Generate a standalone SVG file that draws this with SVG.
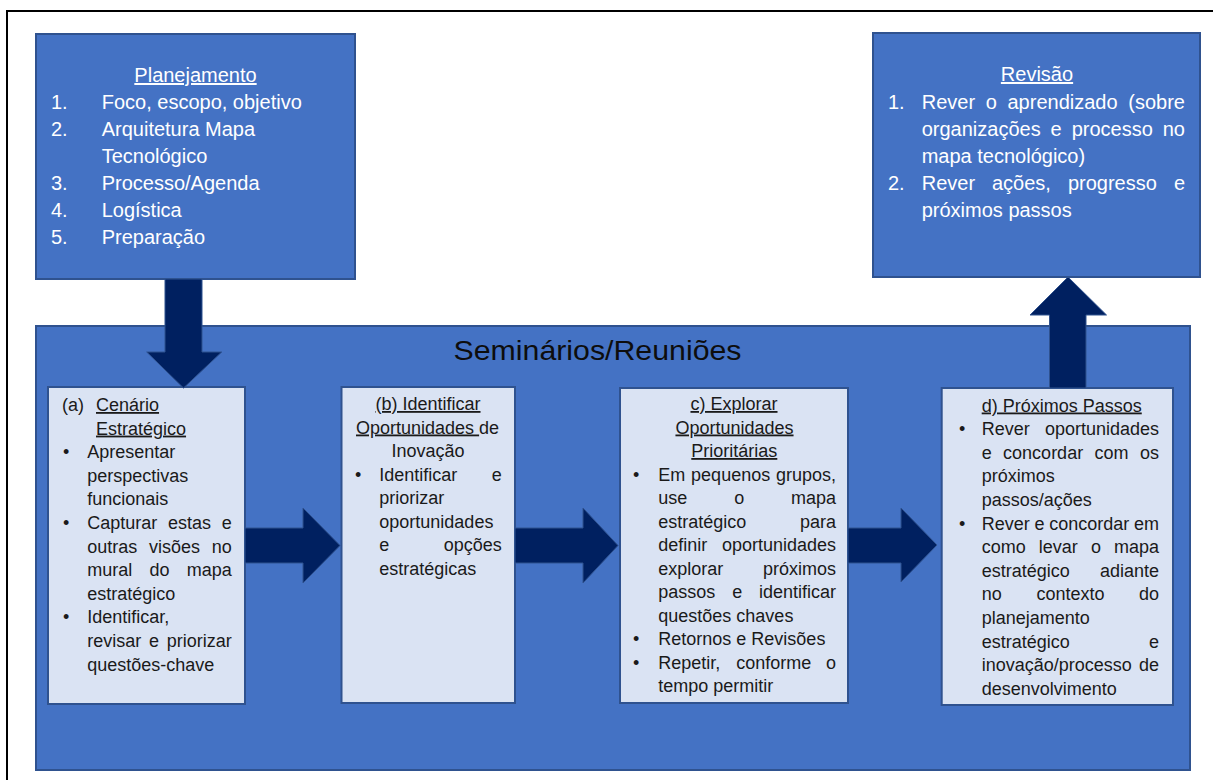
<svg xmlns="http://www.w3.org/2000/svg" width="1213" height="780" viewBox="0 0 1213 780">
<style>
.dark{fill:#4472C4;stroke:#2F528F;stroke-width:2}
.light{fill:#DAE3F3;stroke:#2F528F;stroke-width:2}
.arrow{fill:#002060;stroke:#2F528F;stroke-width:1}
text{font-family:"Liberation Sans",Arial,sans-serif}
.w{fill:#FFFFFF;font-size:20px}
.k{fill:#1A1A1A;font-size:18px}
.e{text-anchor:end}
.m{text-anchor:middle}
.u{text-decoration:underline}
</style>
<rect width="1213" height="780" fill="#FFFFFF"/>
<path d="M7,780 V11 H1213" fill="none" stroke="#000" stroke-width="2"/>

<g id="seminarios">
<rect class="dark" x="36" y="326" width="1154" height="444"/>
<text x="597.5" y="359.5" font-size="28" fill="#0D0D0D" class="m" textLength="288" lengthAdjust="spacingAndGlyphs">Seminários/Reuniões</text>
</g>

<g id="planejamento">
<rect class="dark" x="36" y="34" width="319" height="245"/>
<text class="w m u" x="195.5" y="82">Planejamento</text>
<text class="w" x="51" y="109">1.</text><text class="w" x="101.7" y="109">Foco, escopo, objetivo</text>
<text class="w" x="51" y="136">2.</text><text class="w" x="101.7" y="136">Arquitetura Mapa</text>
<text class="w" x="101.7" y="163">Tecnológico</text>
<text class="w" x="51" y="190">3.</text><text class="w" x="101.7" y="190">Processo/Agenda</text>
<text class="w" x="51" y="217">4.</text><text class="w" x="101.7" y="217">Logística</text>
<text class="w" x="51" y="244">5.</text><text class="w" x="101.7" y="244">Preparação</text>
</g>

<g id="revisao">
<rect class="dark" x="873" y="33" width="327" height="244"/>
<text class="w m u" x="1037" y="81">Revisão</text>
<text class="w" x="888" y="108.5">1.</text>
<text class="w" x="921.7" y="108.5">Rever</text><text class="w" x="985.7" y="108.5">o</text><text class="w" x="1007.5" y="108.5">aprendizado</text><text class="w e" x="1185" y="108.5">(sobre</text>
<text class="w" x="921.7" y="135.5">organizações</text><text class="w" x="1050.6" y="135.5">e</text><text class="w" x="1071.7" y="135.5">processo</text><text class="w e" x="1185" y="135.5">no</text>
<text class="w" x="921.7" y="162.5">mapa tecnológico)</text>
<text class="w" x="888" y="189.5">2.</text>
<text class="w" x="921.7" y="189.5">Rever</text><text class="w" x="992" y="189.5">ações,</text><text class="w" x="1067.9" y="189.5">progresso</text><text class="w e" x="1185" y="189.5">e</text>
<text class="w" x="921.7" y="216.5">próximos passos</text>
</g>

<g id="box-a">
<rect class="light" x="48" y="387" width="197" height="317"/>
<text class="k" x="62" y="411">(a)</text><text class="k u" x="96" y="411">Cenário</text>
<text class="k u" x="96" y="434.6">Estratégico</text>
<text class="k" x="63" y="458.2">•</text><text class="k" x="87.3" y="458.2">Apresentar</text>
<text class="k" x="87.3" y="481.8">perspectivas</text>
<text class="k" x="87.3" y="505.4">funcionais</text>
<text class="k" x="63" y="529">•</text><text class="k" x="87.3" y="529">Capturar</text><text class="k" x="168" y="529">estas</text><text class="k e" x="231.7" y="529">e</text>
<text class="k" x="87.3" y="552.6">outras</text><text class="k" x="149" y="552.6">visões</text><text class="k e" x="231.7" y="552.6">no</text>
<text class="k" x="87.3" y="576.2">mural</text><text class="k" x="149.5" y="576.2">do</text><text class="k e" x="231.7" y="576.2">mapa</text>
<text class="k" x="87.3" y="599.8">estratégico</text>
<text class="k" x="63" y="623.4">•</text><text class="k" x="87.3" y="623.4">Identificar,</text>
<text class="k" x="87.3" y="647">revisar</text><text class="k" x="149" y="647">e</text><text class="k e" x="231.7" y="647">priorizar</text>
<text class="k" x="87.3" y="670.6">questões-chave</text>
</g>

<g id="box-b">
<rect class="light" x="341.5" y="387" width="173.5" height="316"/>
<text class="k m u" x="428" y="410">(b) Identificar</text>
<text class="k" x="356" y="433.5"><tspan class="u">Oportunidades&#160;</tspan>de</text>
<text class="k m" x="428" y="457">Inovação</text>
<text class="k" x="355" y="480.5">•</text><text class="k" x="379.3" y="480.5">Identificar</text><text class="k e" x="501.7" y="480.5">e</text>
<text class="k" x="379.3" y="504">priorizar</text>
<text class="k" x="379.3" y="527.5">oportunidades</text>
<text class="k" x="379.3" y="551">e</text><text class="k e" x="501.7" y="551">opções</text>
<text class="k" x="379.3" y="574.5">estratégicas</text>
</g>

<g id="box-c">
<rect class="light" x="620" y="388" width="228" height="315"/>
<text class="k m u" x="734" y="410">c) Explorar</text>
<text class="k m u" x="734.5" y="433.5">Oportunidades</text>
<text class="k m u" x="734.3" y="457">Prioritárias</text>
<text class="k" x="633" y="480.5">•</text><text class="k" x="658.3" y="480.5">Em</text><text class="k" x="691.1" y="480.5">pequenos</text><text class="k e" x="836" y="480.5">grupos,</text>
<text class="k" x="658.3" y="504">use</text><text class="k" x="734.2" y="504">o</text><text class="k e" x="836" y="504">mapa</text>
<text class="k" x="658.3" y="527.5">estratégico</text><text class="k e" x="836" y="527.5">para</text>
<text class="k" x="658.3" y="551">definir</text><text class="k e" x="836" y="551">oportunidades</text>
<text class="k" x="658.3" y="574.5">explorar</text><text class="k e" x="836" y="574.5">próximos</text>
<text class="k" x="658.3" y="598">passos</text><text class="k" x="732.2" y="598">e</text><text class="k e" x="836" y="598">identificar</text>
<text class="k" x="658.3" y="621.5">questões chaves</text>
<text class="k" x="633" y="645">•</text><text class="k" x="658.3" y="645">Retornos e Revisões</text>
<text class="k" x="633" y="668.5">•</text><text class="k" x="658.3" y="668.5">Repetir,</text><text class="k" x="736.2" y="668.5">conforme</text><text class="k e" x="836" y="668.5">o</text>
<text class="k" x="658.3" y="692">tempo permitir</text>
</g>

<g id="box-d">
<rect class="light" x="941.7" y="388" width="231.3" height="317"/>
<text class="k u" x="981.7" y="411.5">d) Próximos Passos</text>
<text class="k" x="959" y="435.1">•</text><text class="k" x="981.7" y="435.1">Rever</text><text class="k e" x="1159" y="435.1">oportunidades</text>
<text class="k" x="981.7" y="458.7">e</text><text class="k" x="1003.1" y="458.7">concordar</text><text class="k" x="1094.6" y="458.7">com</text><text class="k e" x="1159" y="458.7">os</text>
<text class="k" x="981.7" y="482.3">próximos</text>
<text class="k" x="981.7" y="505.9">passos/ações</text>
<text class="k" x="959" y="529.5">•</text><text class="k" x="981.7" y="529.5">Rever</text><text class="k" x="1034.5" y="529.5">e</text><text class="k" x="1049.2" y="529.5">concordar</text><text class="k e" x="1159" y="529.5">em</text>
<text class="k" x="981.7" y="553.1">como</text><text class="k" x="1038.8" y="553.1">levar</text><text class="k" x="1090.9" y="553.1">o</text><text class="k e" x="1159" y="553.1">mapa</text>
<text class="k" x="981.7" y="576.7">estratégico</text><text class="k e" x="1159" y="576.7">adiante</text>
<text class="k" x="981.7" y="600.3">no</text><text class="k" x="1036.4" y="600.3">contexto</text><text class="k e" x="1159" y="600.3">do</text>
<text class="k" x="981.7" y="623.9">planejamento</text>
<text class="k" x="981.7" y="647.5">estratégico</text><text class="k e" x="1159" y="647.5">e</text>
<text class="k" x="981.7" y="671.1">inovação/processo</text><text class="k e" x="1159" y="671.1">de</text>
<text class="k" x="981.7" y="694.7">desenvolvimento</text>
</g>

<g id="connectors">
<path class="arrow" d="M165,279 H202 V352 H221.7 L183.5,388 L146.7,352 H165 Z"/>
<path class="arrow" d="M245,528 H303 V508 L340,545.5 L303,583 V563 H245 Z"/>
<path class="arrow" d="M515,528 H583 V508 L618,545.5 L583,583 V563 H515 Z"/>
<path class="arrow" d="M848,528 H901 V508 L937,545 L901,582 V563 H848 Z"/>
<path class="arrow" d="M1049.5,388 V315 H1030 L1068,277 L1106.5,315 H1086 V388 Z"/>
</g>
</svg>
